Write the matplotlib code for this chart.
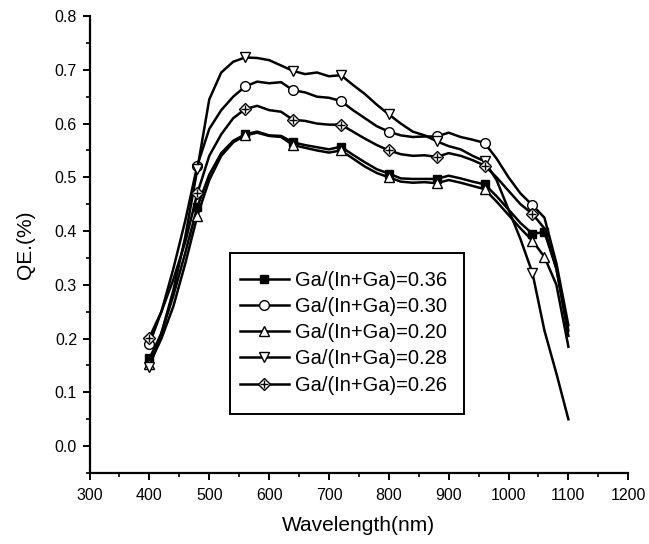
import matplotlib
matplotlib.use("Agg")
import matplotlib.pyplot as plt
from matplotlib.patches import Rectangle
from matplotlib.legend_handler import HandlerTuple

plt.rcParams['font.family'] = ['Liberation Sans', 'DejaVu Sans']

wavelength = [400, 420, 440, 460, 480, 500, 520, 540, 560, 580, 600, 620, 640, 660, 680, 700,
              720, 740, 760, 780, 800, 820, 840, 860, 880, 900, 920, 940, 960, 980, 1000, 1020,
              1040, 1060, 1080, 1100]

qe_036 = [0.163, 0.21, 0.28, 0.36, 0.445, 0.505, 0.545, 0.568, 0.580, 0.585, 0.578, 0.577, 0.565,
          0.560, 0.556, 0.552, 0.557, 0.542, 0.528, 0.515, 0.507, 0.498, 0.497, 0.497, 0.497,
          0.503, 0.498, 0.492, 0.487, 0.465, 0.440, 0.415, 0.395, 0.398, 0.33, 0.215]
qe_030 = [0.190, 0.25, 0.33, 0.42, 0.522, 0.590, 0.625, 0.650, 0.669, 0.678, 0.675, 0.677, 0.662,
          0.658, 0.650, 0.648, 0.642, 0.625, 0.610, 0.595, 0.585, 0.578, 0.575, 0.576, 0.576,
          0.583, 0.575, 0.570, 0.564, 0.535, 0.500, 0.470, 0.448, 0.425, 0.34, 0.225]
qe_020 = [0.152, 0.20, 0.26, 0.34, 0.428, 0.495, 0.540, 0.565, 0.578, 0.583, 0.577, 0.575, 0.560,
          0.555, 0.550, 0.546, 0.550, 0.535, 0.520, 0.508, 0.500, 0.492, 0.490, 0.491, 0.489,
          0.495, 0.490, 0.484, 0.478, 0.455, 0.430, 0.405, 0.382, 0.352, 0.30, 0.185]
qe_028 = [0.148, 0.21, 0.29, 0.39, 0.515, 0.645, 0.695, 0.715, 0.723, 0.722, 0.718, 0.708, 0.698,
          0.692, 0.695, 0.688, 0.690, 0.672, 0.655, 0.635, 0.617, 0.600, 0.585, 0.578, 0.567,
          0.558, 0.552, 0.540, 0.530, 0.495, 0.440, 0.385, 0.322, 0.215, 0.135, 0.050]
qe_026 = [0.202, 0.25, 0.31, 0.38, 0.470, 0.540, 0.580, 0.610, 0.627, 0.633, 0.625, 0.622, 0.607,
          0.605, 0.600, 0.598, 0.598, 0.585, 0.572, 0.560, 0.550, 0.543, 0.540, 0.541, 0.538,
          0.545, 0.540, 0.532, 0.522, 0.500, 0.475, 0.450, 0.432, 0.405, 0.33, 0.205]

labels = ["Ga/(In+Ga)=0.36", "Ga/(In+Ga)=0.30", "Ga/(In+Ga)=0.20",
          "Ga/(In+Ga)=0.28", "Ga/(In+Ga)=0.26"]

fig = plt.figure(figsize=(6.49, 5.44), dpi=100)
ax = fig.add_axes([0.138, 0.1305, 0.830, 0.840])

base_marks = list(range(0, 33, 4))
lw = 1.8
ms = 6

l1, = ax.plot(wavelength, qe_036, color='black', lw=lw, marker='s', ms=ms, mfc='black', mec='black',
              markevery=base_marks + [33])
l2, = ax.plot(wavelength, qe_030, color='black', lw=lw, marker='o', ms=ms + 1, mfc='white', mec='black',
              mew=1.0, markevery=base_marks)
l3, = ax.plot(wavelength, qe_020, color='black', lw=lw, marker='^', ms=ms + 1, mfc='white', mec='black',
              mew=1.0, markevery=base_marks + [33])
l4, = ax.plot(wavelength, qe_028, color='black', lw=lw, marker='v', ms=ms + 1, mfc='white', mec='black',
              mew=1.0, markevery=base_marks)
l5, = ax.plot(wavelength, qe_026, color='black', lw=lw, marker='D', ms=ms, mfc='white', mec='black',
              mew=1.0, markevery=base_marks)
l5p, = ax.plot([wavelength[i] for i in base_marks], [qe_026[i] for i in base_marks],
               ls='none', marker='+', ms=ms, mec='black', mew=1.0)

ax.set_xlim(300, 1200)
ax.set_ylim(-0.05, 0.8)
ax.set_xticks(range(300, 1201, 100))
ax.set_xticks(range(350, 1200, 100), minor=True)
ax.set_yticks([0.0, 0.1, 0.2, 0.3, 0.4, 0.5, 0.6, 0.7, 0.8])
ax.set_yticks([-0.05, 0.05, 0.15, 0.25, 0.35, 0.45, 0.55, 0.65, 0.75], minor=True)
ax.set_yticklabels([f"{v:.1f}" for v in [0.0, 0.1, 0.2, 0.3, 0.4, 0.5, 0.6, 0.7, 0.8]])

for s in ['top', 'right']:
    ax.spines[s].set_visible(False)
for s in ['left', 'bottom']:
    ax.spines[s].set_linewidth(1.6)

ax.tick_params(axis='both', which='major', direction='out', length=5, width=1.4, labelsize=11.5, pad=4)
ax.tick_params(axis='x', which='major', pad=6)
ax.tick_params(axis='both', which='minor', direction='out', length=3, width=1.2)

ax.set_xlabel("Wavelength(nm)", fontsize=15, labelpad=9)
ax.set_ylabel("QE.(%)", fontsize=15, labelpad=14)

# legend frame
rect = Rectangle((535, 0.06), 390, 0.30, transform=ax.transData, fill=False,
                 edgecolor='black', lw=1.4, zorder=5)
ax.add_patch(rect)

leg = ax.legend([l1, l2, l3, l4, (l5, l5p)], labels,
                handler_map={tuple: HandlerTuple(ndivide=1)},
                loc='upper left', bbox_to_anchor=(535, 0.345), bbox_transform=ax.transData,
                frameon=False, fontsize=14.5, handlelength=2.4, handletextpad=0.3,
                labelspacing=0.36, borderpad=0.5, borderaxespad=0)

fig.savefig("out.png", dpi=100)
